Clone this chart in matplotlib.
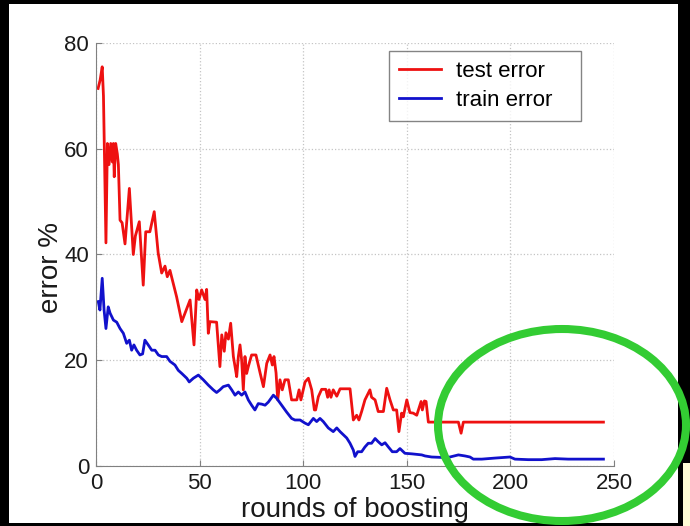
import matplotlib
matplotlib.use("Agg")
import matplotlib.pyplot as plt
from matplotlib.patches import Rectangle, Ellipse

# error curves, vertices (round, error %)
test_rounds = [1, 2, 3, 3.6, 4.8, 5.5, 6.3, 7.1, 7.9, 8.4, 8.8, 9.5, 10.3, 10.8,
               11.6, 12.6, 14, 16.1, 18, 19, 20.9, 22.8, 24, 26, 28.1, 30, 31.7,
               33.3, 34.4, 35.7, 38.9, 41.4, 45.4, 47.3, 48.6, 49.7, 51, 52.6, 53.4,
               54.2, 55, 58.2, 59.8, 60.7, 61.9, 62.7, 63.9, 65, 66.3, 67.1, 67.9,
               68.7, 69.5, 70.3, 71.1, 71.9, 72.7, 73.5, 75.1, 77.2, 79.2, 80.8,
               82.4, 84, 85.1, 85.9, 86.9, 87.7, 88.8, 89.9, 91.2, 92.8, 94.4, 96.9,
               98, 98.9, 100.9, 102.5, 104.1, 105.4, 106, 107.3, 108.9, 110.9, 111.8,
               112.5, 113.4, 114.5, 116.2, 117.8, 122.6, 124.2, 125.8, 126.9, 128.2,
               129.8, 132.2, 133, 134.7, 136.2, 138.7, 140.3, 141.9, 143.5, 145.1,
               146.2, 147.5, 148.3, 150, 151.5, 153.1, 154.8, 156.9, 157.5, 158.5,
               159.3, 160.4, 174.9, 176.2, 177.3, 244.9]
test_err = [71.4, 73, 75.5, 70, 42.2, 61, 57, 61, 57.5, 61, 54.7, 61, 59, 57,
            46.5, 46, 42, 52.5, 40, 43.5, 46.2, 34.2, 44.3, 44.3, 48.1, 40.3, 36.5,
            37.8, 35.8, 37, 32, 27.3, 31.4, 22.9, 33.3, 31.5, 33.3, 31.5, 33.4,
            25.1, 27.3, 27.2, 18.8, 24.8, 21.7, 25.2, 24, 27, 20.7, 18.8, 16.9,
            20.7, 22.9, 20, 14.4, 20.7, 17.5, 18.8, 21, 21, 17.6, 15,
            19.4, 21, 19.1, 20.7, 17.6, 12.5, 16.3, 14.4, 16.3, 16.3, 12.5, 12.5,
            14.4, 12.5, 15.9, 16.6, 14.4, 10.6, 10.6, 13.1, 14.5, 14.5, 13,
            14.4, 13, 14.4, 13.2, 14.6, 14.6, 8.7, 9.6, 8.7, 10.3,
            12.5, 14.4, 13, 12.5, 10.3, 10.3, 14.7, 12.5, 10.6, 10.6,
            6.5, 10, 9.3, 12.5, 10.1, 10, 9.6, 12.2, 10.6, 12.3,
            12.2, 8.3, 8.3, 6.2, 8.3, 8.3]

train_rounds = [1.1, 1.9, 3, 3.9, 4.8, 5.9, 6.8, 8.4, 10, 11.6, 13.2, 14.8, 16.1,
                17.2, 18.3, 19.6, 21.2, 22.5, 23.6, 25.2, 26.9, 28.5, 30.1, 31.7,
                34.1, 35.7, 38.1, 39.7, 41.4, 43.8, 45, 47, 49.4, 51.8, 54.2, 56.6,
                58.2, 59.8, 61.4, 63.9, 65.5, 67.1, 68.7, 70.3, 71.9, 73.5, 75.1,
                76.7, 78.3, 80, 81.6, 83.2, 85.6, 87.2, 89.6, 92, 94.4, 96, 98.5,
                100.9, 102.5, 104.9, 106.5, 108.1, 109.7, 112.1, 114.5, 116.2, 117.8,
                119.4, 121, 122.6, 124.2, 125, 126.3, 128.2, 129.8, 131.4, 133, 134.7,
                136.2, 137.9, 139.5, 141.1, 143, 145.1, 146.7, 149.1, 152.4, 157.2,
                158.8, 162, 168.4, 170.8, 174.9, 178.1, 180.5, 182.1, 186.2, 192.6,
                199.8, 202.2, 208.6, 215.1, 221.5, 227.9, 244.9]
train_err = [31.1, 29.5, 35.5, 29.5, 26, 30.1, 28.9, 27.6, 27.2, 26, 25.1, 23.2, 23.8,
             21.9, 22.9, 21.9, 21, 21.2, 23.8, 22.9, 21.9, 21.9, 21, 20.7,
             20.7, 19.8, 19.1, 18.1, 17.5, 16.6, 15.9, 16.6, 17.2, 16.3, 15.3, 14.4,
             13.9, 14.4, 15, 15.3, 14.4, 13.4, 14, 13.4, 14, 12.5, 11.5,
             10.6, 11.8, 11.7, 11.5, 12.1, 13.4, 12.8, 11.5, 10.2, 9, 8.7, 8.7,
             8.1, 7.8, 9, 8.4, 9, 8.4, 7.2, 6.5, 7.2, 6.5,
             5.9, 5.3, 4.3, 3, 1.8, 2.7, 2.7, 3.6, 4.3, 4.3, 5.2,
             4.6, 4, 4.4, 3.6, 2.7, 2.7, 3.3, 2.4, 2.3, 2.1,
             1.9, 1.7, 1.6, 1.7, 2.1, 1.9, 1.7, 1.3, 1.3, 1.5,
             1.7, 1.3, 1.2, 1.2, 1.4, 1.3, 1.3]

x_ticks = [0, 50, 100, 150, 200, 250]
y_ticks = [0, 20, 40, 60, 80]

W, H = 690, 526
plt.rcParams['font.family'] = ['Liberation Sans', 'DejaVu Sans']

fig = plt.figure(figsize=(W / 100, H / 100), dpi=100, facecolor='black')
fig.add_artist(Rectangle((9 / W, 1 - 523 / H), 669 / W, 519 / H,
                         transform=fig.transFigure, fc='white', ec='none', zorder=0))
fig.add_artist(Rectangle((683 / W, 0), 7 / W, 1 - 463 / H,
                         transform=fig.transFigure, fc='#fffcd6', ec='none', zorder=0))

ax = fig.add_axes([96 / W, 1 - 466 / H, 518 / W, 423 / H])
ax.plot(test_rounds, test_err, color='#ee1111', lw=2.0, label='test error')
ax.plot(train_rounds, train_err, color='#1111cc', lw=2.0, label='train error')

ax.set_xlim(0, 250)
ax.set_ylim(0, 80)
ax.set_xticks(x_ticks)
ax.set_yticks(y_ticks)
ax.grid(True, color='#c4c4c4', linestyle=':', lw=0.9)
for side in ('top', 'right'):
    ax.spines[side].set_visible(False)
for side in ('left', 'bottom'):
    ax.spines[side].set_color('#808080')
ax.tick_params(direction='in', length=4, color='#808080', labelsize=16,
               labelcolor='#1a1a1a', pad=5)

ax.set_xlabel('rounds of boosting', fontsize=20, color='#1a1a1a')
ax.set_ylabel('error %', fontsize=20, color='#1a1a1a')
ax.xaxis.set_label_coords(0.5, -0.074)
ax.yaxis.set_label_coords(-0.062, 0.47)

# legend box stretched to its full width, entries kept to the left
leg = ax.legend(loc='upper left', bbox_to_anchor=(389 / W, 1 - 120 / H, 192 / W, 69 / H),
                bbox_transform=fig.transFigure, mode='expand', fontsize=16,
                frameon=True, fancybox=False, handlelength=1.9, handletextpad=0.65,
                borderpad=0.45, labelspacing=0.36, borderaxespad=0)
leg.get_frame().set_edgecolor('#666666')
leg.get_frame().set_linewidth(1.0)

fig.add_artist(Ellipse((562 / W, 1 - 425 / H), 248 / W, 192 / H,
                       transform=fig.transFigure, fill=False, ec='#33cc33',
                       lw=5.8, zorder=10))

fig.savefig('out.png', dpi=100, facecolor=fig.get_facecolor())
